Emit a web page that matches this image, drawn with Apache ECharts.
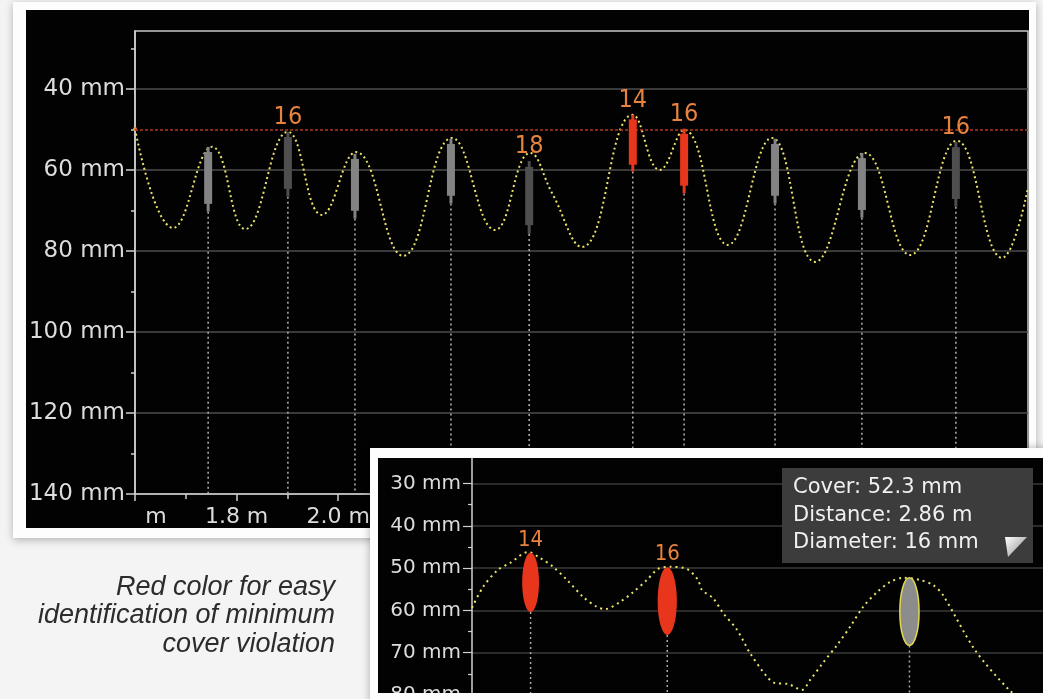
<!DOCTYPE html>
<html><head><meta charset="utf-8">
<script src="https://cdn.jsdelivr.net/npm/echarts@6/dist/echarts.min.js"></script>
<style>html,body{margin:0;padding:0;background:#f4f4f4;}#c{width:1043px;height:699px;}</style>
</head><body><div id="c"></div>
<script>
// ---------- data ----------
const minCover = 50; // mm
// main scan (distance in m, cover in mm)
const curveDist  = [1.600, 1.675, 1.752, 1.817, 1.901, 1.968, 2.035, 2.128, 2.224, 2.309, 2.378, 2.421, 2.480, 2.580, 2.633, 2.681, 2.767, 2.854, 2.939, 3.037, 3.126, 3.218, 3.307, 3.358];
const curveCover = [49.9, 74.3, 54.3, 74.6, 50.6, 71.1, 55.6, 81.2, 52.1, 74.8, 55.8, 65.7, 79.0, 46.4, 60.0, 50.1, 78.5, 52.1, 82.7, 55.8, 81.0, 52.8, 81.7, 64.4];
// detected rebars
const rebarDist     = [1.744, 1.901, 2.033, 2.222, 2.376, 2.580, 2.681, 2.86, 3.031, 3.216];
const rebarCover    = [54.3, 50.6, 56.0, 52.3, 57.8, 46.4, 49.8, 52.3, 55.8, 53.1];
const rebarDiameter = [16, 16, 16, 16, 18, 14, 16, 16, 16, 16];
const rebarLabelShown = [0, 1, 0, 0, 1, 1, 1, 0, 0, 1];
const selectedRebar = 7;
// zoomed scan (inset)
const zoomDist  = [2.5367, 2.5448, 2.5559, 2.5648, 2.5781, 2.5870, 2.5966, 2.6069, 2.6188, 2.6291, 2.6350, 2.6461, 2.6557, 2.6660, 2.6742, 2.6830, 2.6956, 2.7037, 2.7067, 2.7148, 2.7222, 2.7326, 2.7422, 2.7547, 2.7607, 2.7703, 2.7806, 2.7865, 2.7961, 2.8065, 2.8161, 2.8257, 2.8360, 2.8456, 2.8553, 2.8678, 2.8774, 2.8848, 2.9085, 2.9336, 2.9432, 2.9530];
const zoomCover = [59.4, 54.5, 50.4, 48.8, 46.2, 47.6, 49.7, 52.8, 56.8, 59.2, 59.7, 58.0, 55.7, 52.8, 50.2, 49.7, 50.2, 52.8, 55.2, 57.1, 60.6, 64.6, 70.1, 75.7, 77.2, 77.4, 78.8, 76.5, 72.4, 68.2, 63.9, 59.2, 55.7, 53.3, 52.3, 52.8, 54.0, 56.4, 69.4, 78.8, 81.0, 84.0];
// axis ticks
const mainCoverTicks = [40, 60, 80, 100, 120, 140];
const mainCoverMinor = [30, 50, 70, 90, 110, 130];
const zoomCoverTicks = [30, 40, 50, 60, 70, 80];
const zoomCoverMinor = [35, 45, 55, 65, 75];
const captionLines = ['Red color for easy', 'identification of minimum', 'cover violation'];

// ---------- build ----------
const RED = '#e8361c', ORANGE = '#e8833f';
const mainCurve = curveDist.map((d, i) => [d, curveCover[i]]);
const zoomCurve = zoomDist.map((d, i) => [d, zoomCover[i]]);
const rebars = rebarDist.map((d, i) => [d, rebarCover[i], rebarDiameter[i], rebarLabelShown[i], i]);
const zoomMin = zoomDist[0], zoomMax = 2.9587;
const zoomRebars = rebars.filter(r => r[0] >= zoomMin && r[0] <= zoomMax);

function txt(s, x, y, font, fill, align, valign) {
  return {text: s, x: x, y: y, font: font, fill: fill, align: align, verticalAlign: valign, textAlign: align, textVerticalAlign: valign};
}

function mainRebarItem(params, api) {
  const x = api.value(0), cover = api.value(1), dia = api.value(2), lab = api.value(3);
  const top = api.coord([x, cover]);
  const bot = api.coord([x, cover + dia]);
  const base = api.coord([x, 140]);
  const col = cover < minCover ? RED : (lab ? '#4e4e4e' : '#838383');
  const h = bot[1] - top[1];
  const ch = [
    {type: 'line', shape: {x1: top[0], y1: bot[1], x2: top[0], y2: base[1]}, style: {stroke: '#b5b5b5', lineWidth: 1.5, lineDash: [2, 3]}},
    {type: 'rect', shape: {x: top[0] - 1.5, y: top[1], width: 3, height: h}, style: {fill: col}},
    {type: 'rect', shape: {x: top[0] - 4, y: top[1] + h * 0.08, width: 8, height: h * 0.8}, style: {fill: col}}
  ];
  if (lab) ch.push({type: 'text', style: txt(String(dia), top[0], top[1] - 2, '25px "DejaVu Sans Condensed", "DejaVu Sans"', ORANGE, 'center', 'bottom')});
  return {type: 'group', children: ch};
}

function zoomRebarItem(params, api) {
  const x = api.value(0), cover = api.value(1), dia = api.value(2), lab = api.value(3), idx = api.value(4);
  const top = api.coord([x, cover]);
  const bot = api.coord([x, cover + dia]);
  const base = api.coord([x, 90]);
  const sel = idx === selectedRebar;
  const col = cover < minCover ? RED : '#8c8c8c';
  const rx = dia * 0.6;
  const ch = [
    {type: 'line', shape: {x1: top[0], y1: bot[1], x2: top[0], y2: base[1]}, style: {stroke: '#a8a8a8', lineWidth: 1.5, lineDash: [2, 3]}},
    {type: 'ellipse', shape: {cx: top[0], cy: (top[1] + bot[1]) / 2, rx: rx, ry: (bot[1] - top[1]) / 2},
      style: sel ? {fill: col, stroke: '#e2d84e', lineWidth: 1.5} : {fill: col}}
  ];
  if (lab && !sel) ch.push({type: 'text', style: txt(String(dia), top[0], top[1] - 2, '22px "DejaVu Sans Condensed", "DejaVu Sans"', ORANGE, 'center', 'bottom')});
  return {type: 'group', children: ch};
}

const sel = selectedRebar;
const tipLines = [
  'Cover: ' + rebarCover[sel].toFixed(1) + ' mm',
  'Distance: ' + rebarDist[sel].toFixed(2) + ' m',
  'Diameter: ' + rebarDiameter[sel] + ' mm'
];

const axisFont = 'DejaVu Sans';
const option = {
  backgroundColor: '#f4f4f4',
  animation: false,
  grid: [
    {left: 135, top: 31, width: 893, height: 463, show: true, borderColor: '#c8c8c8', borderWidth: 1.5, z: 3, containLabel: false, outerBoundsMode: 'none'},
    {left: 472, top: 458.1, width: 571, height: 253.8, show: false, z: 12, containLabel: false, outerBoundsMode: 'none'}
  ],
  xAxis: [
    {type: 'value', gridIndex: 0, min: 1.6, max: 3.358, interval: 0.2, z: 3, position: 'bottom',
      axisLine: {lineStyle: {color: '#d0d0d0', width: 1.5}},
      axisTick: {length: 7, lineStyle: {color: '#d0d0d0', width: 1.5}},
      minorTick: {show: true, splitNumber: 2, length: 5, lineStyle: {color: '#d0d0d0', width: 1.5}},
      axisLabel: {margin: 12, color: '#dcdcdc', fontSize: 22, fontFamily: axisFont, formatter: v => v.toFixed(1) + ' m'},
      splitLine: {show: false}},
    {type: 'value', gridIndex: 1, min: zoomMin, max: zoomMax, show: false, z: 12}
  ],
  yAxis: [
    {type: 'value', gridIndex: 0, inverse: true, min: 25.7, max: 140, z: 3, position: 'left',
      axisLine: {show: true, lineStyle: {color: '#d0d0d0', width: 1.5}},
      axisTick: {show: true, customValues: mainCoverTicks, length: 9, lineStyle: {color: '#d0d0d0', width: 1.5}},
      axisLabel: {customValues: mainCoverTicks, margin: 10, color: '#dcdcdc', fontSize: 23, fontFamily: axisFont, formatter: v => v + ' mm'},
      splitLine: {show: true, lineStyle: {color: '#4c4c4c', width: 1.5}}},
    {type: 'value', gridIndex: 0, inverse: true, min: 25.7, max: 140, z: 3, position: 'left', offset: 0,
      axisLine: {show: false}, axisLabel: {show: false}, splitLine: {show: false},
      axisTick: {show: true, customValues: mainCoverMinor, length: 4, lineStyle: {color: '#d0d0d0', width: 1.5}}},
    {type: 'value', gridIndex: 1, inverse: true, min: 24, max: 84, z: 12, position: 'left',
      axisLine: {show: true, lineStyle: {color: '#d0d0d0', width: 1.5}},
      axisTick: {show: true, customValues: zoomCoverTicks, length: 9, lineStyle: {color: '#d0d0d0', width: 1.2}},
      axisLabel: {customValues: zoomCoverTicks, margin: 11, color: '#dcdcdc', fontSize: 20, fontFamily: axisFont, formatter: v => v + ' mm'},
      splitLine: {show: true, lineStyle: {color: '#3a3a3a', width: 1.5}}},
    {type: 'value', gridIndex: 1, inverse: true, min: 24, max: 84, z: 12, position: 'left', offset: 0,
      axisLine: {show: false}, axisLabel: {show: false}, splitLine: {show: false},
      axisTick: {show: true, customValues: zoomCoverMinor, length: 4, lineStyle: {color: '#d0d0d0', width: 1.2}}}
  ],
  series: [
    {type: 'line', xAxisIndex: 0, yAxisIndex: 0, z: 4, smooth: 0.45, symbol: 'none',
      data: mainCurve.map((p, i) => i === 0 ? {value: p, symbol: 'circle', symbolSize: 4, itemStyle: {color: ORANGE}} : p),
      lineStyle: {color: '#ece46a', width: 2, type: [2, 3]},
      markLine: {silent: true, symbol: ['none', 'none'], label: {show: false},
        lineStyle: {color: '#b23a22', width: 1.5, type: [3, 2]}, data: [{yAxis: minCover}]}},
    {type: 'custom', xAxisIndex: 0, yAxisIndex: 0, z: 5, renderItem: mainRebarItem, data: rebars, encode: {x: 0, y: 1}},
    {type: 'line', xAxisIndex: 1, yAxisIndex: 2, z: 13, smooth: 0.3, symbol: 'none', data: zoomCurve,
      lineStyle: {color: '#ece46a', width: 2, type: [2, 4]},
      markLine: {silent: true, symbol: ['none', 'none'], label: {show: false},
        lineStyle: {color: '#7c3427', width: 1, type: [3, 3]}, data: [{yAxis: minCover}]}},
    {type: 'custom', xAxisIndex: 1, yAxisIndex: 2, z: 14, clip: true, renderItem: zoomRebarItem, data: zoomRebars, encode: {x: 0, y: 1}}
  ],
  graphic: [
    {type: 'rect', z: 0, shape: {x: 13, y: 2, width: 1023, height: 536}, style: {fill: '#fdfdfd', shadowBlur: 8, shadowColor: 'rgba(0,0,0,0.28)', shadowOffsetY: 2}},
    {type: 'rect', z: 1, shape: {x: 26, y: 10, width: 1003, height: 518}, style: {fill: '#020202'}},
    {type: 'rect', z: 6, shape: {x: 95, y: 506, width: 42, height: 22}, style: {fill: '#020202'}},
    {type: 'rect', z: 10, shape: {x: 370, y: 448, width: 690, height: 260}, style: {fill: '#fdfdfd', shadowBlur: 8, shadowColor: 'rgba(0,0,0,0.3)'}},
    {type: 'rect', z: 11, shape: {x: 378, y: 458, width: 680, height: 235}, style: {fill: '#020202'}},
    {type: 'rect', z: 20, shape: {x: 370, y: 693, width: 690, height: 10}, style: {fill: '#fdfdfd'}},
    {type: 'rect', z: 21, shape: {x: 782, y: 468, width: 251, height: 95}, style: {fill: 'rgba(62,62,62,0.97)'}},
    {type: 'text', z: 22, style: txt(tipLines[0], 793, 488, '21px "DejaVu Sans"', '#f0f0f0', 'left', 'middle')},
    {type: 'text', z: 22, style: txt(tipLines[1], 793, 516, '21px "DejaVu Sans"', '#f0f0f0', 'left', 'middle')},
    {type: 'text', z: 22, style: txt(tipLines[2], 793, 543, '21px "DejaVu Sans"', '#f0f0f0', 'left', 'middle')},
    {type: 'polygon', z: 22, shape: {points: [[1005, 537], [1027, 537], [1008, 557]]},
      style: {fill: {type: 'linear', x: 0, y: 0, x2: 1, y2: 1, colorStops: [{offset: 0, color: '#ffffff'}, {offset: 1, color: '#8a8a8a'}]}}},
    {type: 'text', z: 5, style: txt(captionLines[0], 335, 587, 'italic 27px "Liberation Sans"', '#2c2c2c', 'right', 'middle')},
    {type: 'text', z: 5, style: txt(captionLines[1], 335, 615, 'italic 27px "Liberation Sans"', '#2c2c2c', 'right', 'middle')},
    {type: 'text', z: 5, style: txt(captionLines[2], 335, 644, 'italic 27px "Liberation Sans"', '#2c2c2c', 'right', 'middle')}
  ]
};
const chart = echarts.init(document.getElementById('c'), null, {renderer: 'canvas'});
chart.setOption(option);
</script></body></html>
